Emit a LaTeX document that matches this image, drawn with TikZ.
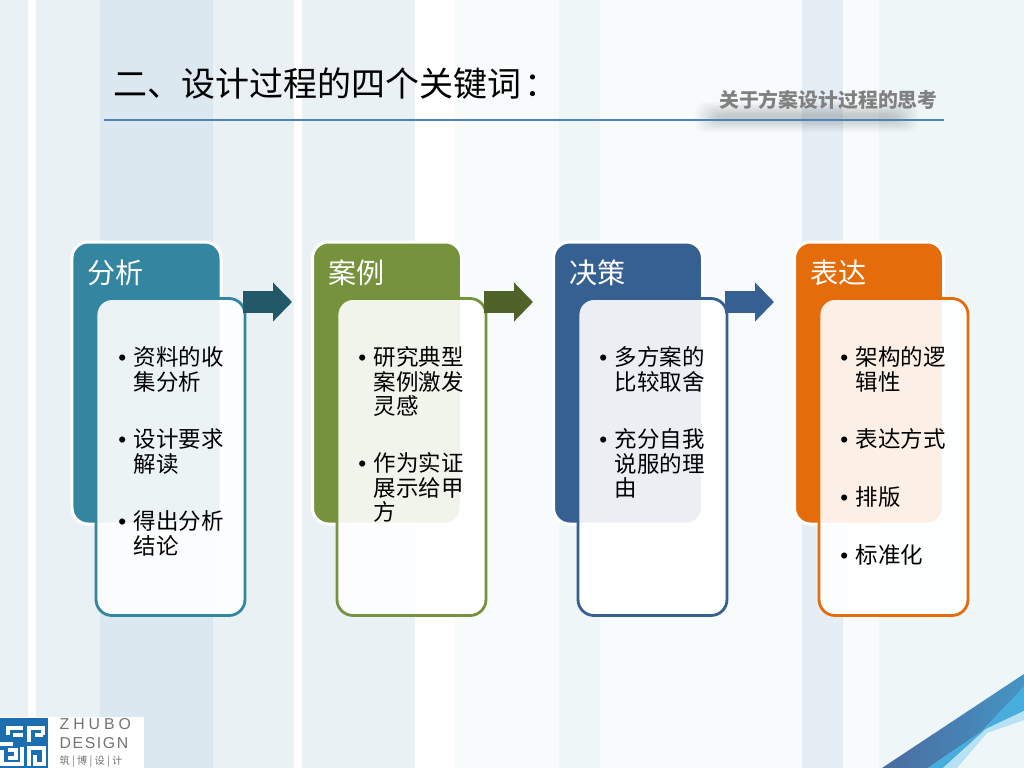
\documentclass[tikz,border=0pt]{standalone}
\usepackage{fontspec}
\usepackage{xcolor}
\setmainfont{Noto Sans CJK SC}
\newfontfamily\latinfont{Liberation Sans}
\usepackage{tikz}
\usetikzlibrary{arrows.meta}

\definecolor{bgpale}{HTML}{F7FBFC}
\definecolor{bgsoft}{HTML}{EEF6F8}
\definecolor{bgmid}{HTML}{E9F1F5}
\definecolor{bgdeep}{HTML}{DBE8F0}
\definecolor{bgcool}{HTML}{E6EEF5}
\definecolor{tealc}{HTML}{34859F}
\definecolor{tealdark}{HTML}{215968}
\definecolor{greenc}{HTML}{76923C}
\definecolor{greendark}{HTML}{4F6228}
\definecolor{bluec}{HTML}{376092}
\definecolor{orangec}{HTML}{E46C0A}
\definecolor{rulec}{HTML}{4F81BD}
\definecolor{logoblue}{HTML}{1B6EB0}
\definecolor{cornerl}{HTML}{4A6B9E}
\definecolor{cornerr}{HTML}{4595C5}
\definecolor{cornermid}{HTML}{45AEDC}
\definecolor{cornerpale}{HTML}{B8E1F3}

\newcommand{\bul}{\llap{{\latinfont •}\hspace{0.75mm}}}

\begin{document}
\begin{tikzpicture}[x=1cm,y=-1cm,
  headbox/.style={draw=white,line width=0.03cm,rounded corners=0.16cm,
                  minimum width=1.49cm,minimum height=2.82cm},
  bodybox/.style={line width=0.028cm,rounded corners=0.16cm,fill=white,fill opacity=0.9,
                  minimum width=1.49cm,minimum height=3.17cm},
  headtext/.style={anchor=west,inner sep=0pt,text=white,font=\fontsize{8}{9}\selectfont},
  item/.style={anchor=north west,inner sep=0pt,align=left,font=\fontsize{6.4}{6.97}\selectfont},
  flow/.style={line width=0.22cm,shorten <=-0.035cm,shorten >=0.19cm,
               -{Triangle[length=0.19cm,width=0.38cm]}}]

  \useasboundingbox (0,0) rectangle (10.24,7.68);

  % background stripes
  \fill[bgsoft] (0,0) rectangle (10.24,7.68);
  \foreach \xa/\xb/\col in {0/0.28/bgmid,0.28/0.36/white,0.36/1.00/bgmid,1.00/2.13/bgdeep,
      2.13/2.94/bgmid,2.94/3.02/white,3.02/4.15/bgmid,4.15/4.55/white,4.55/5.59/bgpale,
      5.59/6.00/bgsoft,6.00/8.02/bgpale,8.02/8.43/bgcool,8.43/8.79/bgpale}
    \fill[\col] (\xa,0) rectangle (\xb,7.68);

  % corner
  \shade[left color=cornerl,right color=cornerr]
    (8.82,7.68) -- (10.24,6.74) -- (10.24,6.87) -- (9.81,7.32) -- (9.28,7.68) -- cycle;
  \fill[cornermid]
    (9.28,7.68) -- (9.81,7.32) -- (10.24,6.87) -- (10.24,7.11) -- (9.86,7.29) -- (9.43,7.68) -- cycle;
  \fill[cornerpale]
    (9.43,7.68) -- (9.86,7.29) -- (10.24,7.11) -- (10.24,7.20) -- (9.87,7.33) -- (9.57,7.68) -- cycle;

  % title
  \node[anchor=west,inner sep=0pt,font=\fontsize{9.67}{12}\selectfont] (title) at (1.13,0.84)
    {二、设计过程的四个关键词\kern0.1em：};
  \foreach \k in {0,...,9}
    \fill[black,opacity=0.02,rounded corners=0.1cm]
      (6.95+0.025*\k,1.02+0.014*\k) rectangle (9.18-0.025*\k,1.32-0.014*\k);
  \node[anchor=west,inner sep=0pt,text=black!50,font=\fontsize{5.65}{7}\selectfont\bfseries] (subtitle)
    at (7.185,1.00) {关于方案设计过程的思考};
  \draw[rulec,line width=0.022cm] (1.04,1.20) -- (9.44,1.20);

  \coordinate (flowy) at (0,3.02);

  % analysis
  \node[headbox,fill=tealc] (anahead) at (1.465,3.83) {};
  \node[headtext] (anatitle) at (0.87,2.73) {分析};
  \node[bodybox,draw=tealc] (anabody) at (1.705,4.57) {};
  \node[item] (ana1) at (1.33,3.46) {\bul 资料的收\\集分析};
  \node[item] (ana2) at (1.33,4.28) {\bul 设计要求\\解读};
  \node[item] (ana3) at (1.33,5.10) {\bul 得出分析\\结论};

  % cases
  \node[headbox,fill=greenc] (casehead) at (3.87,3.83) {};
  \node[headtext] (casetitle) at (3.28,2.73) {案例};
  \node[bodybox,draw=greenc] (casebody) at (4.115,4.57) {};
  \node[item] (case1) at (3.73,3.46) {\bul 研究典型\\案例激发\\灵感};
  \node[item] (case2) at (3.73,4.52) {\bul 作为实证\\展示给甲\\方};

  % decision
  \node[headbox,fill=bluec] (dechead) at (6.28,3.83) {};
  \node[headtext] (dectitle) at (5.69,2.73) {决策};
  \node[bodybox,draw=bluec] (decbody) at (6.525,4.57) {};
  \node[item] (dec1) at (6.14,3.46) {\bul 多方案的\\比较取舍};
  \node[item] (dec2) at (6.14,4.28) {\bul 充分自我\\说服的理\\由};

  % expression
  \node[headbox,fill=orangec] (exphead) at (8.69,3.83) {};
  \node[headtext] (exptitle) at (8.10,2.73) {表达};
  \node[bodybox,draw=orangec] (expbody) at (8.935,4.57) {};
  \node[item] (exp1) at (8.55,3.46) {\bul 架构的逻\\辑性};
  \node[item] (exp2) at (8.55,4.28) {\bul 表达方式};
  \node[item] (exp3) at (8.55,4.86) {\bul 排版};
  \node[item] (exp4) at (8.55,5.44) {\bul 标准化};

  % arrows
  \draw[flow,tealdark] (anabody.east |- flowy) -- (casehead.west |- flowy);
  \draw[flow,greendark] (casebody.east |- flowy) -- (dechead.west |- flowy);
  \draw[flow,bluec] (decbody.east |- flowy) -- (exphead.west |- flowy);

  % logo
  \fill[white] (0,7.17) rectangle (1.44,7.68);
  \fill[logoblue] (0,7.18) rectangle (0.48,7.68);
  \draw[white,line width=0.035cm]
    (0.08,7.35) -- (0.08,7.28) -- (0.23,7.28)
    (0.13,7.35) -- (0.23,7.35)
    (0.43,7.35) -- (0.43,7.28) -- (0.29,7.28) -- (0.29,7.42)
    (0.35,7.35) -- (0.43,7.35)
    (0,7.44) -- (0.13,7.44)
    (0.02,7.50) -- (0.02,7.64) -- (0.22,7.64) -- (0.22,7.47)
    (0.08,7.50) -- (0.16,7.50) -- (0.16,7.58) -- (0.08,7.58)
    (0.29,7.66) -- (0.29,7.48) -- (0.44,7.48) -- (0.44,7.64) -- (0.35,7.64) -- (0.35,7.55);
  \node[anchor=west,inner sep=0pt,text=black!55,font={\latinfont\fontsize{4.5}{5}\selectfont\addfontfeature{LetterSpace=25}}] (logozh)
    at (0.59,7.24) {ZHUBO};
  \node[anchor=west,inner sep=0pt,text=black!55,font={\latinfont\fontsize{4.5}{5}\selectfont\addfontfeature{LetterSpace=10}}] (logode)
    at (0.59,7.43) {DESIGN};
  \node[anchor=west,inner sep=0pt,text=black!55,font=\fontsize{2.9}{4}\selectfont] (logocn)
    at (0.59,7.62) {筑 | 博 | 设 | 计};

\end{tikzpicture}
\end{document}
